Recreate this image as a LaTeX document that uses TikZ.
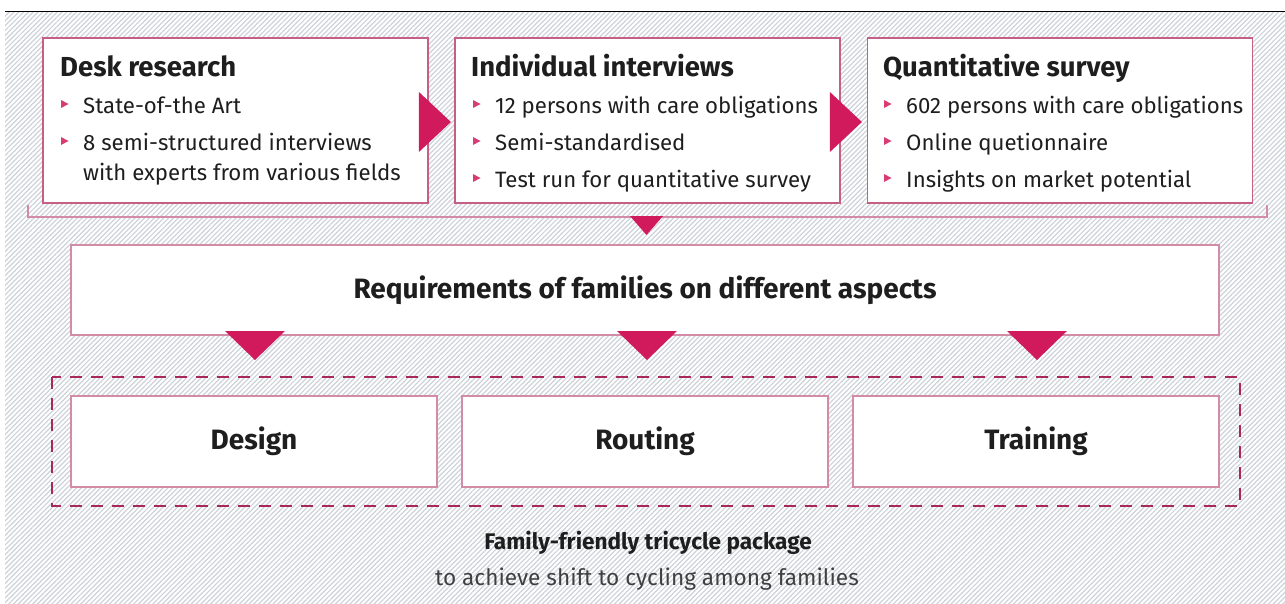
\documentclass[tikz,border=0pt]{standalone}
\usepackage{fontspec}
\setmainfont{Fira Sans}
\usetikzlibrary{patterns.meta,calc}
\definecolor{hatchgray}{RGB}{205,210,216}
\definecolor{magenta}{RGB}{208,26,92}
\definecolor{boxpink}{RGB}{196,96,132}
\definecolor{lightpink}{RGB}{210,140,165}
\definecolor{dashpink}{RGB}{168,40,92}
\definecolor{txt}{RGB}{30,30,30}
\tikzset{
  topbox/.style={draw=boxpink,line width=1.8pt,fill=white,minimum width=385pt,minimum height=165pt,inner sep=0pt},
  midbox/.style={draw=lightpink,line width=1.5pt,fill=white,inner sep=0pt},
  head/.style={anchor=base west,inner sep=0pt,font=\bfseries\fontsize{27.5}{32}\selectfont,text=txt},
  item/.style={anchor=base west,inner sep=0pt,font=\fontsize{22.2}{26}\selectfont,text=txt},
  big/.style={inner sep=0pt,font=\bfseries\fontsize{28}{32}\selectfont,text=txt},
  tri/.style={fill=magenta,draw=none},
  bul/.style={fill=magenta!85,draw=none},
}
\newcommand{\bulletat}[1]{\fill[bul] ($(#1)+(0,-5)$) -- ++(0,-8) -- ++(7.5,4) -- cycle;}
\begin{document}
\begin{tikzpicture}[x=1pt,y=-1pt]
\useasboundingbox (0,0) rectangle (1285,603);
% hatched background
\fill[white] (0,0) rectangle (1285,603);
\fill[pattern={Lines[angle=45,distance=3.4pt,line width=1.2pt]},pattern color=hatchgray] (5,12) rectangle (1285,603);
\draw[black,line width=1pt] (5,11) -- (1285,11);
% bracket under top row
\draw[lightpink,line width=1.2pt] (28,205) -- (28,217) -- (1267,217) -- (1267,205);
% top boxes
\node[topbox] (b1) at (235.5,120.5) {};
\node[topbox] (b2) at (647.5,120.5) {};
\node[topbox] (b3) at (1060,120.5) {};
% arrows between
\fill[tri] ($(b1.east)+(-10,-28.5)$) -- ($(b1.east)+(22,1.5)$) -- ($(b1.east)+(-10,31.5)$) -- cycle;
\fill[tri] ($(b2.east)+(-11,-28.5)$) -- ($(b2.east)+(21,1.5)$) -- ($(b2.east)+(-11,31.5)$) -- cycle;
% texts box 1
\node[head] (h1) at (60,76) {Desk research};
\node[item] (t11) at (83,113) {State-of-the Art};
\node[item] (t12) at (83,150) {8 semi-structured interviews};
\node[item] (t13) at (83,180) {with experts from various fields};
\bulletat{61,113}\bulletat{61,150}
% texts box 2
\node[head] (h2) at (471,76) {Individual interviews};
\node[item] (t21) at (495,113) {12 persons with care obligations};
\node[item] (t22) at (495,150) {Semi-standardised};
\node[item] (t23) at (495,187) {Test run for quantitative survey};
\bulletat{473,113}\bulletat{473,150}\bulletat{473,187}
% texts box 3
\node[head] (h3) at (883,76) {Quantitative survey};
\node[item] (t31) at (906,113) {602 persons with care obligations};
\node[item] (t32) at (906,150) {Online quetionnaire};
\node[item] (t33) at (906,187) {Insights on market potential};
\bulletat{884,113}\bulletat{884,150}\bulletat{884,187}
% requirements box
\node[midbox,minimum width=1148pt,minimum height=90pt] (req) at (645,290) {};
\node[big] (reqt) at (645,290) {Requirements of families on different aspects};
\fill[tri] (630,216) -- (663,216) -- (646.5,235) -- cycle;
% dashed group
\draw[dashpink,line width=1.6pt,dash pattern=on 12pt off 9pt] (52,377) rectangle (1240,506);
\node[midbox,minimum width=366pt,minimum height=91pt] (d) at (254,441.5) {};
\node[midbox,minimum width=366pt,minimum height=91pt] (r) at (645,441.5) {};
\node[midbox,minimum width=366pt,minimum height=91pt] (tr) at (1036,441.5) {};
\node[big] (dt) at (d) {Design};
\node[big] (rt) at (r) {Routing};
\node[big] (trt) at (tr) {Training};
\foreach \cx in {255,647,1037}{
  \fill[tri] (\cx-30,331) -- (\cx+30,331) -- (\cx,360) -- cycle;
}
% bottom caption
\node[anchor=base,inner sep=0pt,font=\bfseries\fontsize{22.6}{26}\selectfont,text=txt] (cap1) at (648,549) {Family-friendly tricycle package};
\node[anchor=base,inner sep=0pt,font=\fontsize{22.6}{26}\selectfont,text=txt!85] (cap2) at (647,585) {to achieve shift to cycling among families};
\end{tikzpicture}
\end{document}
